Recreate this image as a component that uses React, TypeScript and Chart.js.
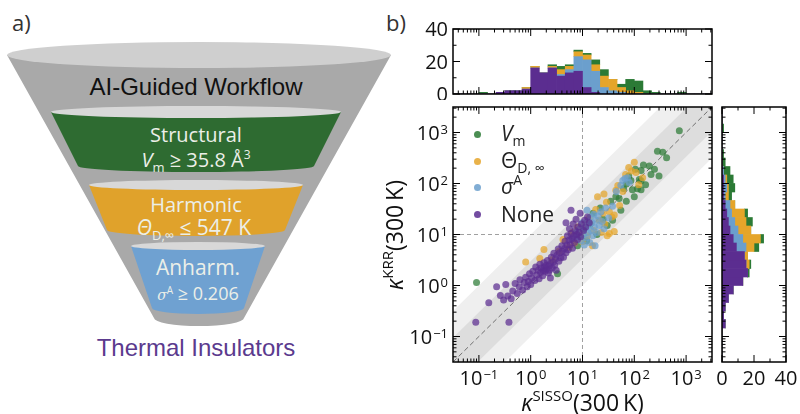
import React, { useEffect, useRef } from 'react';
import { Chart, registerables } from 'chart.js';

Chart.register(...registerables);
Chart.defaults.font.family = '"Open Sans", sans-serif';

// ---------------- data ----------------
const AXIS_MIN = 0.0316228; // 10^-1.5
const AXIS_MAX = 3162.28; // 10^3.5
const LOG_MAJOR_TICKS = [0.1, 1, 10, 100, 1000];
const COUNT_MAJOR_TICKS = [0, 20, 40];
const COUNT_MINOR_TICKS = [10, 30];
const COUNT_MAX = 40;
const BIN_LOG_START = -1.5;
const BIN_LOG_WIDTH = 1 / 6;
const BAND_INNER = 3;
const BAND_OUTER = 10;
const GUIDE_X = 10;
const GUIDE_Y = 10;

const C_VM = '#2b7a35';
const C_THETA = '#e5a52a';
const C_SIGMA = '#6b9fcd';
const C_NONE = '#5b2d90';

// scatter: [kappa_SISSO, kappa_KRR]
const PTS_NONE: [number, number][] = [
  [0.087, 0.19], [0.38, 0.19], [0.155, 0.46], [0.22, 0.95], [0.26, 0.64], [0.3, 0.52], [0.33, 1.05], [0.36, 0.62],
  [0.42, 0.55], [0.45, 0.78], [0.5, 1.1], [0.55, 0.7], [0.6, 0.95], [0.62, 1.3], [0.7, 0.82], [0.75, 1.15],
  [0.8, 1.45], [0.85, 0.95], [0.9, 1.2], [0.95, 1.7], [1.0, 1.05], [1.05, 1.4], [1.1, 1.9], [1.2, 1.25],
  [1.25, 2.3], [1.3, 1.6], [1.4, 2.0], [1.45, 1.35], [1.5, 2.6], [1.55, 1.8], [1.6, 2.2], [1.7, 1.55],
  [1.75, 2.0], [1.8, 2.8], [1.85, 2.3], [1.9, 1.9], [2.0, 2.1], [2.0, 2.5], [2.1, 3.1], [2.2, 1.75],
  [2.25, 2.4], [2.3, 2.0], [2.4, 2.7], [2.5, 3.6], [2.6, 2.2], [2.7, 2.9], [2.8, 4.3], [2.9, 2.5],
  [3.0, 3.3], [3.1, 2.0], [3.2, 3.9], [3.4, 5.2], [3.5, 3.0], [3.6, 4.4], [3.8, 3.5], [4.0, 6.0],
  [4.1, 4.7], [4.3, 3.6], [4.5, 5.3], [4.6, 7.4], [4.8, 4.4], [5.0, 6.2], [5.1, 9.5], [5.3, 5.0],
  [5.5, 7.8], [5.6, 13], [5.8, 6.3], [6.0, 10.5], [6.2, 8.2], [6.4, 5.4], [6.6, 16], [6.8, 9.3],
  [7.0, 7.0], [7.2, 12], [7.5, 20], [7.8, 10], [8.0, 8.0], [8.3, 14], [8.6, 11], [9.0, 26],
  [9.2, 9.0], [9.5, 16], [10.5, 12], [11, 19], [11.5, 14], [12.5, 22], [13.5, 17], [4.8, 17],
  [6.0, 30], [2.4, 1.4],
];
const PTS_SIGMA: [number, number][] = [
  [6.5, 8.5], [7.5, 11], [8.2, 9], [8.8, 13], [9.4, 7.5], [9.8, 17], [10.5, 10], [10.8, 6.2],
  [11.2, 13.5], [11.8, 8.5], [12.2, 30], [12.5, 18], [12.8, 11], [13.3, 15], [13.8, 7], [14.2, 22],
  [14.6, 12], [15.2, 17], [15.8, 9.5], [16.5, 25], [17, 14], [17.5, 6], [18.2, 19], [19, 11],
  [20, 23], [21, 15], [22.5, 28], [24, 18], [26, 13], [28, 33], [32, 21], [38, 36],
  [55, 92], [60, 115], [66, 125], [74, 130], [80, 105], [45, 70],
];
const PTS_THETA: [number, number][] = [
  [0.8, 2.9], [1.8, 5.1], [1.5, 3.4], [2.6, 3.2], [3.5, 4.7], [4.2, 8], [5.5, 5.6], [6.3, 11],
  [7, 6.8], [8, 14], [9, 10.5], [10, 7.2], [11, 16], [12.5, 9.5], [13.5, 21], [15.6, 6],
  [16.5, 12], [18, 31], [19.5, 55], [21, 19], [23, 11], [25, 26], [27, 16], [29, 43],
  [30, 9.5], [33, 10.5], [33, 28], [37, 22], [41, 24], [41, 11.5], [44, 74], [48, 91],
  [52, 37], [60, 70], [68, 150], [78, 205], [88, 175], [100, 260], [108, 165], [122, 95],
  [145, 130], [26, 62],
];
const PTS_VM: [number, number][] = [
  [0.09, 1.15], [3.3, 1.7], [8, 6], [9.5, 9], [10.5, 13], [12, 7.5], [14, 16], [16, 26],
  [19, 10], [22, 33], [25, 20], [30, 15], [35, 45], [38, 19], [44, 55], [51, 51],
  [55, 30], [62, 80], [70, 98], [78, 140], [86, 114], [92, 75], [100, 55], [105, 190],
  [115, 79], [125, 120], [135, 113], [135, 75], [135, 180], [150, 230], [165, 95], [195, 220],
  [210, 150], [245, 190], [280, 430], [300, 140], [355, 410], [420, 320], [740, 1080], [70, 45],
];

// marginal histograms, 30 log bins of 1/6 decade from 10^-1.5
const TOPH_NONE = [0, 0, 0, 0, 0, 1, 2, 2, 3, 16, 13, 16, 11, 13, 14, 4, 1, 0, 0, 0, 0, 0, 0, 0, 0, 0, 0, 0, 0, 0];
const TOPH_SIGMA = [0, 0, 0, 0, 0, 0, 0, 0, 0, 0, 0, 0, 1, 2, 9, 17, 13, 4, 2, 1, 0, 0, 0, 0, 0, 0, 0, 0, 0, 0];
const TOPH_THETA = [0, 0, 0, 0, 0, 0, 0, 0, 1, 1, 0, 1, 3, 2, 3, 3, 4, 7, 7, 3, 2, 1, 0, 0, 0, 0, 0, 0, 0, 0];
const TOPH_VM = [0, 0, 0, 1, 0, 0, 0, 0, 0, 0, 0, 1, 2, 1, 1, 1, 3, 4, 0, 2, 7, 7, 2, 1, 0, 0, 1, 0, 0, 0];

const RH_NONE = [0, 0, 0, 0, 2, 1, 2, 4, 7, 13, 16, 15, 14, 9, 7, 5, 4, 3, 2, 1, 1, 1, 0, 0, 0, 0, 0, 0, 0, 0];
const RH_SIGMA = [0, 0, 0, 0, 0, 0, 0, 0, 0, 0, 0, 0, 0, 6, 6, 5, 4, 3, 3, 1, 2, 1, 1, 0, 0, 0, 0, 0, 0, 0];
const RH_THETA = [0, 0, 0, 0, 0, 0, 0, 0, 0, 0, 0, 2, 2, 5, 11, 8, 7, 8, 3, 2, 1, 1, 0, 0, 0, 0, 0, 0, 0, 0];
const RH_VM = [0, 0, 0, 0, 0, 0, 0, 0, 0, 0, 1, 1, 0, 3, 2, 0, 4, 2, 0, 2, 4, 4, 4, 2, 1, 0, 0, 1, 0, 0];

const BIN_CENTERS = TOPH_NONE.map((_, i) => BIN_LOG_START + (i + 0.5) * BIN_LOG_WIDTH);

const LOG_MINOR_TICKS: number[] = [];
for (let e = -2; e <= 3; e++) {
  for (let k = 2; k <= 9; k++) {
    const v = k * Math.pow(10, e);
    if (v > AXIS_MIN && v < AXIS_MAX) LOG_MINOR_TICKS.push(v);
  }
}

// ---------------- helpers ----------------
function rgba(hex: string, a: number) {
  const n = parseInt(hex.slice(1), 16);
  return `rgba(${(n >> 16) & 255},${(n >> 8) & 255},${n & 255},${a})`;
}
const toXY = (pts: [number, number][]) => pts.map(([x, y]) => ({ x, y }));

type AxisDeco = {
  id: string;
  dir: 'x' | 'y';
  kind: 'log' | 'logunits' | 'linear';
  majors: number[];
  minors: number[];
  label: 'pow10' | 'plain' | 'none';
};

const TICK_FONT = '"Open Sans"';

function decoPlugin(axes: AxisDeco[], guides: boolean) {
  return {
    id: 'deco',
    beforeDatasetsDraw(chart: any) {
      if (!guides) return;
      const ctx = chart.ctx as CanvasRenderingContext2D;
      const a = chart.chartArea;
      const xs = chart.scales.x;
      const ys = chart.scales.y;
      const P = (x: number, y: number) => [xs.getPixelForValue(x), ys.getPixelForValue(y)];
      ctx.save();
      ctx.beginPath();
      ctx.rect(a.left, a.top, a.right - a.left, a.bottom - a.top);
      ctx.clip();
      const band = (f: number, color: string) => {
        const pts = [P(AXIS_MIN, AXIS_MIN / f), P(AXIS_MAX, AXIS_MAX / f), P(AXIS_MAX, AXIS_MAX * f), P(AXIS_MIN, AXIS_MIN * f)];
        ctx.beginPath();
        pts.forEach(([px, py], i) => (i ? ctx.lineTo(px, py) : ctx.moveTo(px, py)));
        ctx.closePath();
        ctx.fillStyle = color;
        ctx.fill();
      };
      band(BAND_OUTER, '#efefef');
      band(BAND_INNER, '#dddddd');
      ctx.lineWidth = 1;
      ctx.setLineDash([4, 3]);
      ctx.strokeStyle = '#a0a0a0';
      const gx = xs.getPixelForValue(GUIDE_X);
      const gy = ys.getPixelForValue(GUIDE_Y);
      ctx.beginPath();
      ctx.moveTo(gx, a.top);
      ctx.lineTo(gx, a.bottom);
      ctx.moveTo(a.left, gy);
      ctx.lineTo(a.right, gy);
      ctx.stroke();
      ctx.setLineDash([5, 3]);
      ctx.strokeStyle = '#707070';
      const d0 = P(AXIS_MIN, AXIS_MIN);
      const d1 = P(AXIS_MAX, AXIS_MAX);
      ctx.beginPath();
      ctx.moveTo(d0[0], d0[1]);
      ctx.lineTo(d1[0], d1[1]);
      ctx.stroke();
      ctx.restore();
    },
    afterDraw(chart: any) {
      const ctx = chart.ctx as CanvasRenderingContext2D;
      const a = chart.chartArea;
      ctx.save();
      ctx.strokeStyle = '#000';
      ctx.fillStyle = '#111';
      ctx.lineWidth = 1;
      for (const ax of axes) {
        const s = chart.scales[ax.id];
        const px = (v: number) => s.getPixelForValue(ax.kind === 'logunits' ? Math.log10(v) : v);
        const tick = (v: number, len: number) => {
          const p = px(v);
          ctx.beginPath();
          if (ax.dir === 'x') {
            ctx.moveTo(p, a.bottom);
            ctx.lineTo(p, a.bottom - len);
            ctx.moveTo(p, a.top);
            ctx.lineTo(p, a.top + len);
          } else {
            ctx.moveTo(a.left, p);
            ctx.lineTo(a.left + len, p);
            ctx.moveTo(a.right, p);
            ctx.lineTo(a.right - len, p);
          }
          ctx.stroke();
        };
        ax.minors.forEach((v) => tick(v, 3.5));
        ax.majors.forEach((v) => tick(v, 7));
        if (ax.label === 'none') continue;
        ctx.textAlign = 'left';
        ctx.textBaseline = 'alphabetic';
        for (const v of ax.majors) {
          const p = px(v);
          const main = ax.label === 'pow10' ? '10' : String(v);
          let exp = '';
          if (ax.label === 'pow10') {
            const e = Math.round(Math.log10(v));
            exp = e < 0 ? '\u2212' + -e : String(e);
          }
          ctx.font = `20px ${TICK_FONT}`;
          const wm = ctx.measureText(main).width;
          ctx.font = `13px ${TICK_FONT}`;
          const we = exp ? ctx.measureText(exp).width + 1 : 0;
          const w = wm + we;
          let x0: number;
          let base: number;
          if (ax.dir === 'x') {
            x0 = p - w / 2;
            base = a.bottom + 23;
          } else {
            x0 = a.left - 5 - w;
            base = p + 7;
          }
          ctx.font = `20px ${TICK_FONT}`;
          ctx.fillText(main, x0, base);
          if (exp) {
            ctx.font = `13px ${TICK_FONT}`;
            ctx.fillText(exp, x0 + wm + 1, base - 6);
          }
        }
      }
      ctx.lineWidth = 1.5;
      ctx.strokeRect(a.left, a.top, a.right - a.left, a.bottom - a.top);
      ctx.restore();
    },
  };
}

const hiddenScale = {
  grid: { display: false },
  border: { display: false },
  ticks: { display: false },
};

const baseOptions = {
  responsive: false,
  maintainAspectRatio: false,
  animation: false as const,
  devicePixelRatio: 1,
  events: [] as any[],
  plugins: { legend: { display: false }, tooltip: { enabled: false } },
};

function histDatasets(series: { data: number[]; color: string; label: string }[], horizontal: boolean) {
  return series.map((s) => ({
    label: s.label,
    data: s.data.map((c, i) => (horizontal ? { x: c, y: BIN_CENTERS[i] } : { x: BIN_CENTERS[i], y: c })),
    backgroundColor: s.color,
    borderWidth: 0,
    barPercentage: 1,
    categoryPercentage: 1,
  }));
}

// ---------------- components ----------------
const Sub = ({ children, size = 14, drop = 5 }: any) => (
  <span style={{ fontSize: size, position: 'relative', top: drop }}>{children}</span>
);
const Sup = ({ children, size = 14, rise = 9 }: any) => (
  <span style={{ fontSize: size, position: 'relative', top: -rise }}>{children}</span>
);

function Txt({ cx, cy, size, family = '"Open Sans"', color = '#111', children }: any) {
  const h = size * 1.5;
  return (
    <div
      style={{
        position: 'absolute',
        left: cx - 200,
        width: 400,
        top: cy - h / 2,
        height: h,
        lineHeight: h + 'px',
        textAlign: 'center',
        fontSize: size,
        fontFamily: family,
        color,
        whiteSpace: 'nowrap',
      }}
    >
      {children}
    </div>
  );
}

function bodyPath(cx: number, topY: number, topHalf: number, botY: number, botHalf: number, botRy: number) {
  return `M ${cx - topHalf} ${topY} L ${cx - botHalf} ${botY} A ${botHalf} ${botRy} 0 0 0 ${cx + botHalf} ${botY} L ${cx + topHalf} ${topY} Z`;
}

function Funnel() {
  const band = '#ecefe8';
  return (
    <>
      <svg width={400} height={414} style={{ position: 'absolute', left: 0, top: 0 }}>
        <path d={bodyPath(199, 55, 192, 318, 45, 8)} fill="#a9a9a9" />
        <ellipse cx={199} cy={55} rx={192} ry={13} fill="#cfcfcf" />
        <path d={bodyPath(196, 112, 145, 166, 118, 6)} fill="#2e6b31" />
        <ellipse cx={196} cy={112} rx={145} ry={6} fill="#d8d8d8" />
        <path d={bodyPath(196, 185, 107, 230, 89, 6)} fill="#e0a22b" />
        <ellipse cx={196} cy={185} rx={107} ry={5} fill="#d8d8d8" />
        <path d={bodyPath(198, 246, 67, 308, 46, 6)} fill="#6fa1d1" />
        <ellipse cx={198} cy={246} rx={67} ry={4} fill="#d8d8d8" />
      </svg>
      <Txt cx={196} cy={87} size={24} family='"Liberation Sans"' color="#111">AI-Guided Workflow</Txt>
      <Txt cx={196} cy={135} size={20} color={band}>Structural</Txt>
      <Txt cx={196} cy={160} size={20} color={band}>
        <i>V</i>
        <Sub size={13}>m</Sub> ≥ 35.8 Å<Sup size={12} rise={8}>3</Sup>
      </Txt>
      <Txt cx={196} cy={205} size={20} color={band}>Harmonic</Txt>
      <Txt cx={194} cy={228} size={21} color={band}>
        <i>Θ</i>
        <Sub size={13}>D,∞</Sub> ≤ 547 K
      </Txt>
      <Txt cx={198} cy={268} size={21} color={band}>Anharm.</Txt>
      <Txt cx={198} cy={293} size={18} color={band}>
        <span style={{ fontFamily: '"DejaVu Serif"', fontStyle: 'italic', fontSize: 14 }}>σ</span>
        <Sup size={10} rise={6}>A</Sup> ≥ 0.206
      </Txt>
      <Txt cx={196} cy={348} size={24} family='"Liberation Sans"' color="#5b3a8e">Thermal Insulators</Txt>
    </>
  );
}

const LEGEND_ROWS = [
  { color: C_VM, cy: 134, label: <><i>V</i><Sub>m</Sub></> },
  { color: C_THETA, cy: 161, label: <>Θ<Sub>D, ∞</Sub></> },
  { color: C_SIGMA, cy: 187, label: <><i>σ</i><Sup>A</Sup></> },
  { color: C_NONE, cy: 214, label: <>None</> },
];

export default function App() {
  const topRef = useRef<HTMLCanvasElement>(null);
  const mainRef = useRef<HTMLCanvasElement>(null);
  const rightRef = useRef<HTMLCanvasElement>(null);

  useEffect(() => {
    const charts: Chart[] = [];
    const histSeries = (n: number[], s: number[], t: number[], v: number[]) => [
      { label: 'None', data: n, color: C_NONE },
      { label: 'sigmaA', data: s, color: C_SIGMA },
      { label: 'ThetaD', data: t, color: C_THETA },
      { label: 'Vm', data: v, color: C_VM },
    ];

    charts.push(
      new Chart(mainRef.current as HTMLCanvasElement, {
        type: 'scatter',
        data: {
          datasets: [
            { label: 'None', data: toXY(PTS_NONE), backgroundColor: rgba(C_NONE, 0.72), order: 0 },
            { label: 'sigmaA', data: toXY(PTS_SIGMA), backgroundColor: rgba(C_SIGMA, 0.72), order: 1 },
            { label: 'ThetaD', data: toXY(PTS_THETA), backgroundColor: rgba(C_THETA, 0.72), order: 2 },
            { label: 'Vm', data: toXY(PTS_VM), backgroundColor: rgba(C_VM, 0.72), order: 3 },
          ],
        },
        options: {
          ...baseOptions,
          layout: { padding: { top: 7, right: 8, left: 0, bottom: 0 } },
          elements: { point: { radius: 3.5, borderWidth: 0, hoverRadius: 3.5 } },
          scales: {
            x: { type: 'logarithmic', min: AXIS_MIN, max: AXIS_MAX, ...hiddenScale, afterFit: (s: any) => { s.height = 52; } },
            y: { type: 'logarithmic', min: AXIS_MIN, max: AXIS_MAX, ...hiddenScale, afterFit: (s: any) => { s.width = 73; } },
          },
        } as any,
        plugins: [
          decoPlugin(
            [
              { id: 'x', dir: 'x', kind: 'log', majors: LOG_MAJOR_TICKS, minors: LOG_MINOR_TICKS, label: 'pow10' },
              { id: 'y', dir: 'y', kind: 'log', majors: LOG_MAJOR_TICKS, minors: LOG_MINOR_TICKS, label: 'pow10' },
            ],
            true,
          ),
        ],
      }),
    );

    charts.push(
      new Chart(topRef.current as HTMLCanvasElement, {
        type: 'bar',
        data: { datasets: histDatasets(histSeries(TOPH_NONE, TOPH_SIGMA, TOPH_THETA, TOPH_VM), false) },
        options: {
          ...baseOptions,
          layout: { padding: { top: 29, right: 8, left: 0, bottom: 0 } },
          scales: {
            x: { type: 'linear', min: BIN_LOG_START, max: BIN_LOG_START + 30 * BIN_LOG_WIDTH, offset: false, stacked: true, ...hiddenScale, afterFit: (s: any) => { s.height = 6; } },
            y: { type: 'linear', min: 0, max: COUNT_MAX, stacked: true, ...hiddenScale, afterFit: (s: any) => { s.width = 73; } },
          },
        } as any,
        plugins: [
          decoPlugin(
            [
              { id: 'x', dir: 'x', kind: 'logunits', majors: LOG_MAJOR_TICKS, minors: LOG_MINOR_TICKS, label: 'none' },
              { id: 'y', dir: 'y', kind: 'linear', majors: COUNT_MAJOR_TICKS, minors: COUNT_MINOR_TICKS, label: 'plain' },
            ],
            false,
          ),
        ],
      }),
    );

    charts.push(
      new Chart(rightRef.current as HTMLCanvasElement, {
        type: 'bar',
        data: { datasets: histDatasets(histSeries(RH_NONE, RH_SIGMA, RH_THETA, RH_VM), true) },
        options: {
          ...baseOptions,
          indexAxis: 'y',
          layout: { padding: { top: 7, right: 14, left: 0, bottom: 0 } },
          scales: {
            x: { type: 'linear', min: 0, max: COUNT_MAX, stacked: true, ...hiddenScale, afterFit: (s: any) => { s.height = 52; } },
            y: { type: 'linear', min: BIN_LOG_START, max: BIN_LOG_START + 30 * BIN_LOG_WIDTH, offset: false, stacked: true, ...hiddenScale, afterFit: (s: any) => { s.width = 17; } },
          },
        } as any,
        plugins: [
          decoPlugin(
            [
              { id: 'x', dir: 'x', kind: 'linear', majors: COUNT_MAJOR_TICKS, minors: COUNT_MINOR_TICKS, label: 'plain' },
              { id: 'y', dir: 'y', kind: 'logunits', majors: LOG_MAJOR_TICKS, minors: LOG_MINOR_TICKS, label: 'none' },
            ],
            false,
          ),
        ],
      }),
    );

    return () => charts.forEach((c) => c.destroy());
  }, []);

  return (
    <div
      style={{
        position: 'absolute',
        left: 0,
        top: 0,
        width: 800,
        height: 414,
        background: '#fff',
        overflow: 'hidden',
        fontFamily: '"Open Sans", sans-serif',
        color: '#111',
      }}
    >
      <Funnel />
      <div style={{ position: 'absolute', left: 12, top: 6, fontSize: 22, color: '#333', lineHeight: '32px' }}>a)</div>
      <div style={{ position: 'absolute', left: 386, top: 6, fontSize: 22, color: '#333', lineHeight: '32px' }}>b)</div>

      <canvas ref={mainRef} width={340} height={314} style={{ position: 'absolute', left: 380, top: 100 }} />
      <canvas ref={topRef} width={340} height={100} style={{ position: 'absolute', left: 380, top: 0 }} />
      <canvas ref={rightRef} width={95} height={314} style={{ position: 'absolute', left: 705, top: 100 }} />

      {LEGEND_ROWS.map((r, i) => (
        <div
          key={i}
          style={{ position: 'absolute', left: 474, top: r.cy - 15, height: 30, display: 'flex', alignItems: 'center', whiteSpace: 'nowrap' }}
        >
          <span style={{ width: 7, height: 7, borderRadius: '50%', background: rgba(r.color, 0.85), display: 'inline-block' }} />
          <span style={{ marginLeft: 20, fontSize: 21, lineHeight: '30px', color: '#222' }}>{r.label}</span>
        </div>
      ))}

      <div
        style={{ position: 'absolute', left: 433, width: 299, top: 387, height: 30, lineHeight: '30px', textAlign: 'center', fontSize: 23, whiteSpace: 'nowrap' }}
      >
        <i>κ</i>
        <Sup size={15} rise={10}>SISSO</Sup>(300{'\u2009'}K)
      </div>
      <div
        style={{
          position: 'absolute',
          left: 274,
          top: 220,
          width: 240,
          height: 30,
          lineHeight: '30px',
          textAlign: 'center',
          fontSize: 23,
          whiteSpace: 'nowrap',
          transform: 'rotate(-90deg)',
        }}
      >
        <i>κ</i>
        <Sup size={15} rise={10}>KRR</Sup>(300{'\u2009'}K)
      </div>
    </div>
  );
}
